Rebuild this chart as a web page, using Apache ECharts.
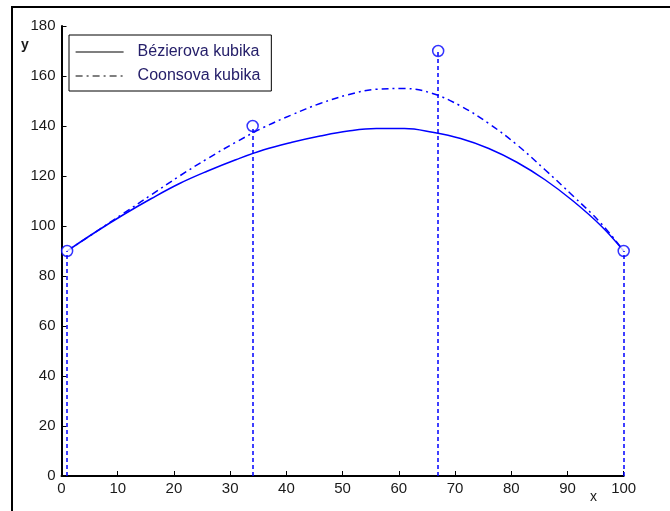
<!DOCTYPE html>
<html>
<head>
<meta charset="utf-8">
<script src="https://cdn.jsdelivr.net/npm/echarts@6/dist/echarts.min.js"></script>
<style>
  html, body { margin: 0; padding: 0; background: #fff; }
  #chart { width: 670px; height: 511px; }
</style>
</head>
<body>
<div id="chart"></div>
<script>
// control points (circles + dotted stems)
var ctrlX = [1, 34, 67, 100];
var ctrlY = [90, 140, 170, 90];

// curve samples
var curveX  = [1, 6, 11, 16, 21, 26, 31, 36, 41, 46, 51, 56, 61, 66, 71, 76, 81, 86, 91, 96, 100];
var bezierY = [90, 97.5, 104.5, 111, 117, 122, 126.5, 130.5, 133.5, 136, 138, 139, 139, 137.5, 135, 131, 125.5, 118.5, 110, 100, 90];
var coonsY  = [90, 97.5, 105, 112.5, 120, 127, 133.5, 139.5, 144.5, 149, 152.5, 154.7, 155, 153, 148, 141, 132.5, 122.5, 112, 101, 90];

var xTicks = [0, 10, 20, 30, 40, 50, 60, 70, 80, 90, 100];
var yTicks = [0, 20, 40, 60, 80, 100, 120, 140, 160, 180];

var names = ['Bézierova kubika', 'Coonsova kubika'];
var blue = '#0000ff';

function pairs(xs, ys) {
  return xs.map(function (x, i) { return [x, ys[i]]; });
}

var stems = ctrlX.map(function (x, i) {
  return [{ coord: [x, 0] }, { coord: [x, ctrlY[i]] }];
});

var chart = echarts.init(document.getElementById('chart'));
var option = {
  animation: false,
  backgroundColor: '#fff',
  textStyle: { fontFamily: 'Liberation Sans, Arial, sans-serif' },
  grid: { left: 61.5, right: 46.3, top: 26, bottom: 35 },
  xAxis: {
    type: 'value',
    min: xTicks[0], max: xTicks[xTicks.length - 1], interval: 10,
    splitLine: { show: false },
    axisLine: { lineStyle: { color: '#000', width: 2 } },
    axisTick: { inside: true, length: 5, lineStyle: { color: '#000' } },
    axisLabel: { color: '#1a1a1a', fontSize: 15, margin: 5 }
  },
  yAxis: {
    type: 'value',
    min: yTicks[0], max: yTicks[yTicks.length - 1], interval: 20,
    splitLine: { show: false },
    axisLine: { show: true, lineStyle: { color: '#000', width: 2 } },
    axisTick: { show: true, inside: true, length: 5, lineStyle: { color: '#000' } },
    axisLabel: { color: '#1a1a1a', fontSize: 15, margin: 6 }
  },
  legend: {
    data: names,
    orient: 'vertical',
    left: 69, top: 35,
    padding: [9, 11, 7, 6],
    itemGap: 8,
    itemWidth: 48, itemHeight: 14,
    borderColor: '#000', borderWidth: 1,
    backgroundColor: '#fff',
    itemStyle: { opacity: 0 },
    lineStyle: { color: '#000', width: 1.2, opacity: 1 },
    textStyle: { color: '#26206a', fontSize: 16, padding: [0, 0, 0, 9] }
  },
  graphic: [
    { type: 'rect', shape: { x: 12, y: 7, width: 700, height: 600 },
      style: { fill: 'none', stroke: '#000', lineWidth: 2 }, silent: true },
    { type: 'text', left: 21, top: 38,
      style: { text: 'y', fill: '#1a1a1a', font: 'bold 14px Liberation Sans, Arial, sans-serif' } },
    { type: 'text', left: 590, top: 490,
      style: { text: 'x', fill: '#1a1a1a', font: '14px Liberation Sans, Arial, sans-serif' } }
  ],
  series: [
    {
      name: names[0],
      type: 'line',
      data: pairs(curveX, bezierY),
      smooth: 0.4,
      symbol: 'none',
      lineStyle: { color: blue, width: 1.5, type: 'solid' },
      itemStyle: { color: blue },
      z: 3
    },
    {
      name: names[1],
      type: 'line',
      data: pairs(curveX, coonsY),
      smooth: 0.4,
      symbol: 'none',
      lineStyle: { color: blue, width: 1.5, type: [7, 4, 2, 4] },
      itemStyle: { color: blue },
      z: 3
    },
    {
      name: 'control',
      type: 'scatter',
      data: pairs(ctrlX, ctrlY),
      symbol: 'circle',
      symbolSize: 11,
      itemStyle: { color: '#fff', borderColor: blue, borderWidth: 1.5 },
      z: 4,
      markLine: {
        silent: true,
        symbol: ['none', 'none'],
        label: { show: false },
        lineStyle: { color: blue, width: 1.5, type: [4, 3] },
        data: stems
      }
    }
  ]
};

if (option && typeof option === 'object') {
  chart.setOption(option);
}
</script>
</body>
</html>
